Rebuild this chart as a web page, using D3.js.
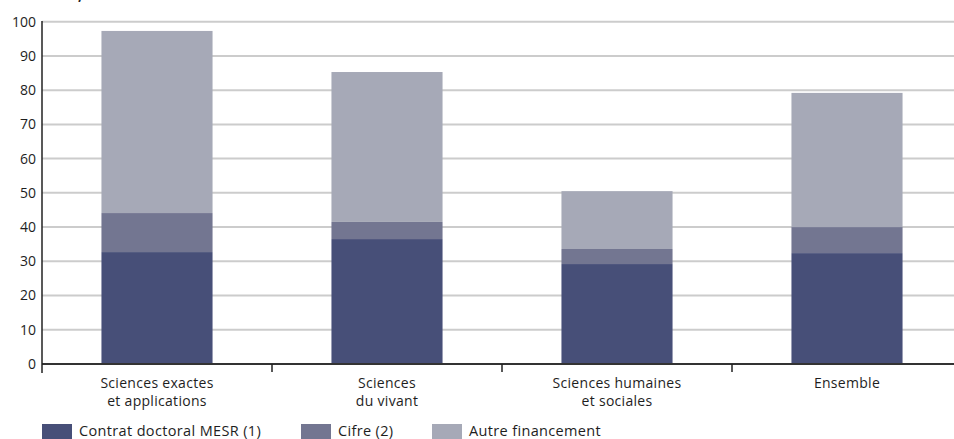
<!DOCTYPE html>
<html><head><meta charset="utf-8">
<script src="https://cdn.jsdelivr.net/npm/d3@7"></script>
<style>
html,body{margin:0;padding:0;background:#fff;}
svg{display:block;font-family:"Open Sans",Lato,sans-serif;}
</style></head>
<body>
<svg id="c" width="954" height="439"></svg>
<script>
const categories = [["Sciences exactes","et applications"],["Sciences","du vivant"],["Sciences humaines","et sociales"],["Ensemble"]];
const seriesNames = ["Contrat doctoral MESR (1)","Cifre (2)","Autre financement"];
const mesr = [32.7, 36.5, 29.2, 32.4];
const cifre = [11.4, 5.0, 4.4, 7.6];
const autre = [53.2, 43.8, 16.9, 39.2];
const yTicks = [0,10,20,30,40,50,60,70,80,90,100];
const colors = ["#474f78","#737691","#a6a9b7"];
const titleText = "Doctorants, en %";

const svg = d3.select("#c");
const x = d3.scaleBand().domain(d3.range(categories.length)).range([42, 962]).paddingInner(0.517).paddingOuter(0.2585);
const y = d3.scaleLinear().domain([0,100]).range([364, 21.7]);

svg.append("text").attr("x",0).attr("y",-0.5).attr("font-weight","bold").attr("font-size",14).attr("fill","#222").text(titleText);

// grid
svg.append("g").selectAll("line").data(yTicks.filter(d=>d>0)).join("line")
  .attr("x1",42).attr("x2",962).attr("y1",d=>y(d)).attr("y2",d=>y(d))
  .attr("stroke","#cccccc").attr("stroke-width",2);

// y labels
svg.append("g").selectAll("text").data(yTicks).join("text")
  .attr("x",36).attr("y",d=>y(d)).attr("dy","0.35em").attr("text-anchor","end")
  .attr("font-size",14).attr("fill","#1e1e1e").text(d=>d);

// stacked bars
const rows = categories.map((c,i)=>({i, v:[mesr[i],cifre[i],autre[i]]}));
const stack = d3.stack().keys([0,1,2]).value((d,k)=>d.v[k]);
const stacked = stack(rows);
svg.append("g").selectAll("g").data(stacked).join("g").attr("fill",(d,k)=>colors[k])
  .selectAll("rect").data(d=>d).join("rect")
  .attr("x",d=>x(d.data.i)).attr("width",x.bandwidth())
  .attr("y",d=>y(d[1])).attr("height",d=>y(d[0])-y(d[1]));

// axes lines
svg.append("line").attr("x1",42).attr("x2",962).attr("y1",364).attr("y2",364).attr("stroke","#333").attr("stroke-width",2);
svg.append("line").attr("x1",42).attr("x2",42).attr("y1",21).attr("y2",373).attr("stroke","#222").attr("stroke-width",1.5);
const step = x.step();
svg.append("g").selectAll("line").data(d3.range(1,categories.length+1)).join("line")
  .attr("x1",d=>42+d*step).attr("x2",d=>42+d*step).attr("y1",364).attr("y2",372)
  .attr("stroke","#222").attr("stroke-width",1.5);

// x labels
const xl = svg.append("g").selectAll("text").data(categories).join("text")
  .attr("text-anchor","middle").attr("font-size",14).attr("letter-spacing","0.3px").attr("fill","#1e1e1e")
  .attr("transform",(d,i)=>`translate(${x(i)+x.bandwidth()/2},388)`);
xl.selectAll("tspan").data(d=>d).join("tspan").attr("x",0).attr("dy",(d,j)=>j===0?0:18).text(d=>d);

// legend
const legX = [42, 301, 432];
const leg = svg.append("g").selectAll("g").data(seriesNames).join("g")
  .attr("transform",(d,i)=>`translate(${legX[i]},424)`);
leg.append("rect").attr("width",30).attr("height",16).attr("fill",(d,i)=>colors[i]);
leg.append("text").attr("x",37).attr("y",11.5).attr("font-size",14.5).attr("letter-spacing","0.35px").attr("fill","#1e1e1e").text(d=>d);
</script>
</body></html>
